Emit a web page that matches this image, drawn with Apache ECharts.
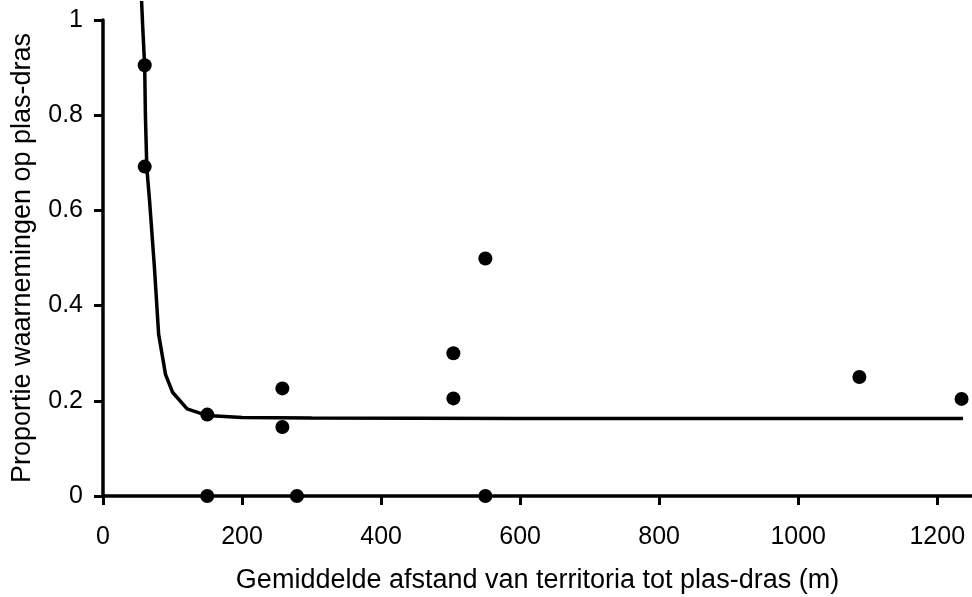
<!DOCTYPE html>
<html>
<head>
<meta charset="utf-8">
<script src="https://cdn.jsdelivr.net/npm/echarts@6/dist/echarts.min.js"></script>
<style>html,body{margin:0;padding:0;background:#fff}#c{width:972px;height:597px}</style>
</head>
<body>
<div id="c"></div>
<script>
var xTicks = [0, 200, 400, 600, 800, 1000, 1200];
var obsX = [60, 60, 150, 150, 258, 258, 279, 504, 504, 550, 550, 1088, 1235];
var obsY = [0.905, 0.692, 0.171, 0, 0.226, 0.145, 0, 0.300, 0.205, 0.499, 0, 0.250, 0.204];
var fitX = [55.5, 57, 60, 61, 63, 67, 74, 80, 90, 100, 121, 150, 200, 300, 600, 1237];
var fitY = [1.04, 0.99, 0.9, 0.8, 0.69, 0.62, 0.48, 0.34, 0.255, 0.218, 0.183, 0.169, 0.165, 0.164, 0.163, 0.163];

var scatterData = obsX.map(function (x, i) { return [x, obsY[i]]; });
var lineData = fitX.map(function (x, i) { return [x, fitY[i]]; });

var font = 'Liberation Sans, Arial, sans-serif';
var chart = echarts.init(document.getElementById('c'), null, {renderer: 'canvas'});
chart.setOption({
  animation: false,
  backgroundColor: '#fff',
  grid: {left: 103, top: 20, right: 0, bottom: 101, containLabel: false, outerBoundsMode: 'none'},
  xAxis: {
    type: 'value', min: 0, max: 1250,
    name: 'Gemiddelde afstand van territoria tot plas-dras (m)',
    nameLocation: 'middle', nameGap: 71,
    nameTextStyle: {fontFamily: font, fontSize: 27, color: '#000'},
    axisLine: {show: true, onZero: false, lineStyle: {color: '#000', width: 3.5}},
    axisTick: {show: true, length: 9, customValues: xTicks, lineStyle: {color: '#000', width: 3}},
    axisLabel: {customValues: xTicks, margin: 29, fontFamily: font, fontSize: 25, color: '#000',
      formatter: function (v) { return String(v); }},
    splitLine: {show: false}
  },
  yAxis: {
    type: 'value', min: 0, max: 1, interval: 0.2,
    name: 'Proportie waarnemingen op plas-dras',
    nameLocation: 'middle', nameGap: 67,
    nameTextStyle: {fontFamily: font, fontSize: 27, color: '#000'},
    axisLine: {show: true, lineStyle: {color: '#000', width: 3.5}},
    axisTick: {show: true, length: 9, lineStyle: {color: '#000', width: 3}},
    axisLabel: {margin: 20, fontFamily: font, fontSize: 25, color: '#000', padding: [5, 0, 0, 0],
      formatter: function (v) { return String(Math.round(v * 10) / 10); }},
    splitLine: {show: false}
  },
  series: [
    {
      type: 'line', data: lineData, showSymbol: false, symbol: 'none', clip: false,
      lineStyle: {color: '#000', width: 3.5}, z: 2
    },
    {
      type: 'scatter', data: scatterData, symbol: 'circle', symbolSize: 14,
      itemStyle: {color: '#000', opacity: 1}, clip: false, z: 3
    }
  ]
});
</script>
</body>
</html>
